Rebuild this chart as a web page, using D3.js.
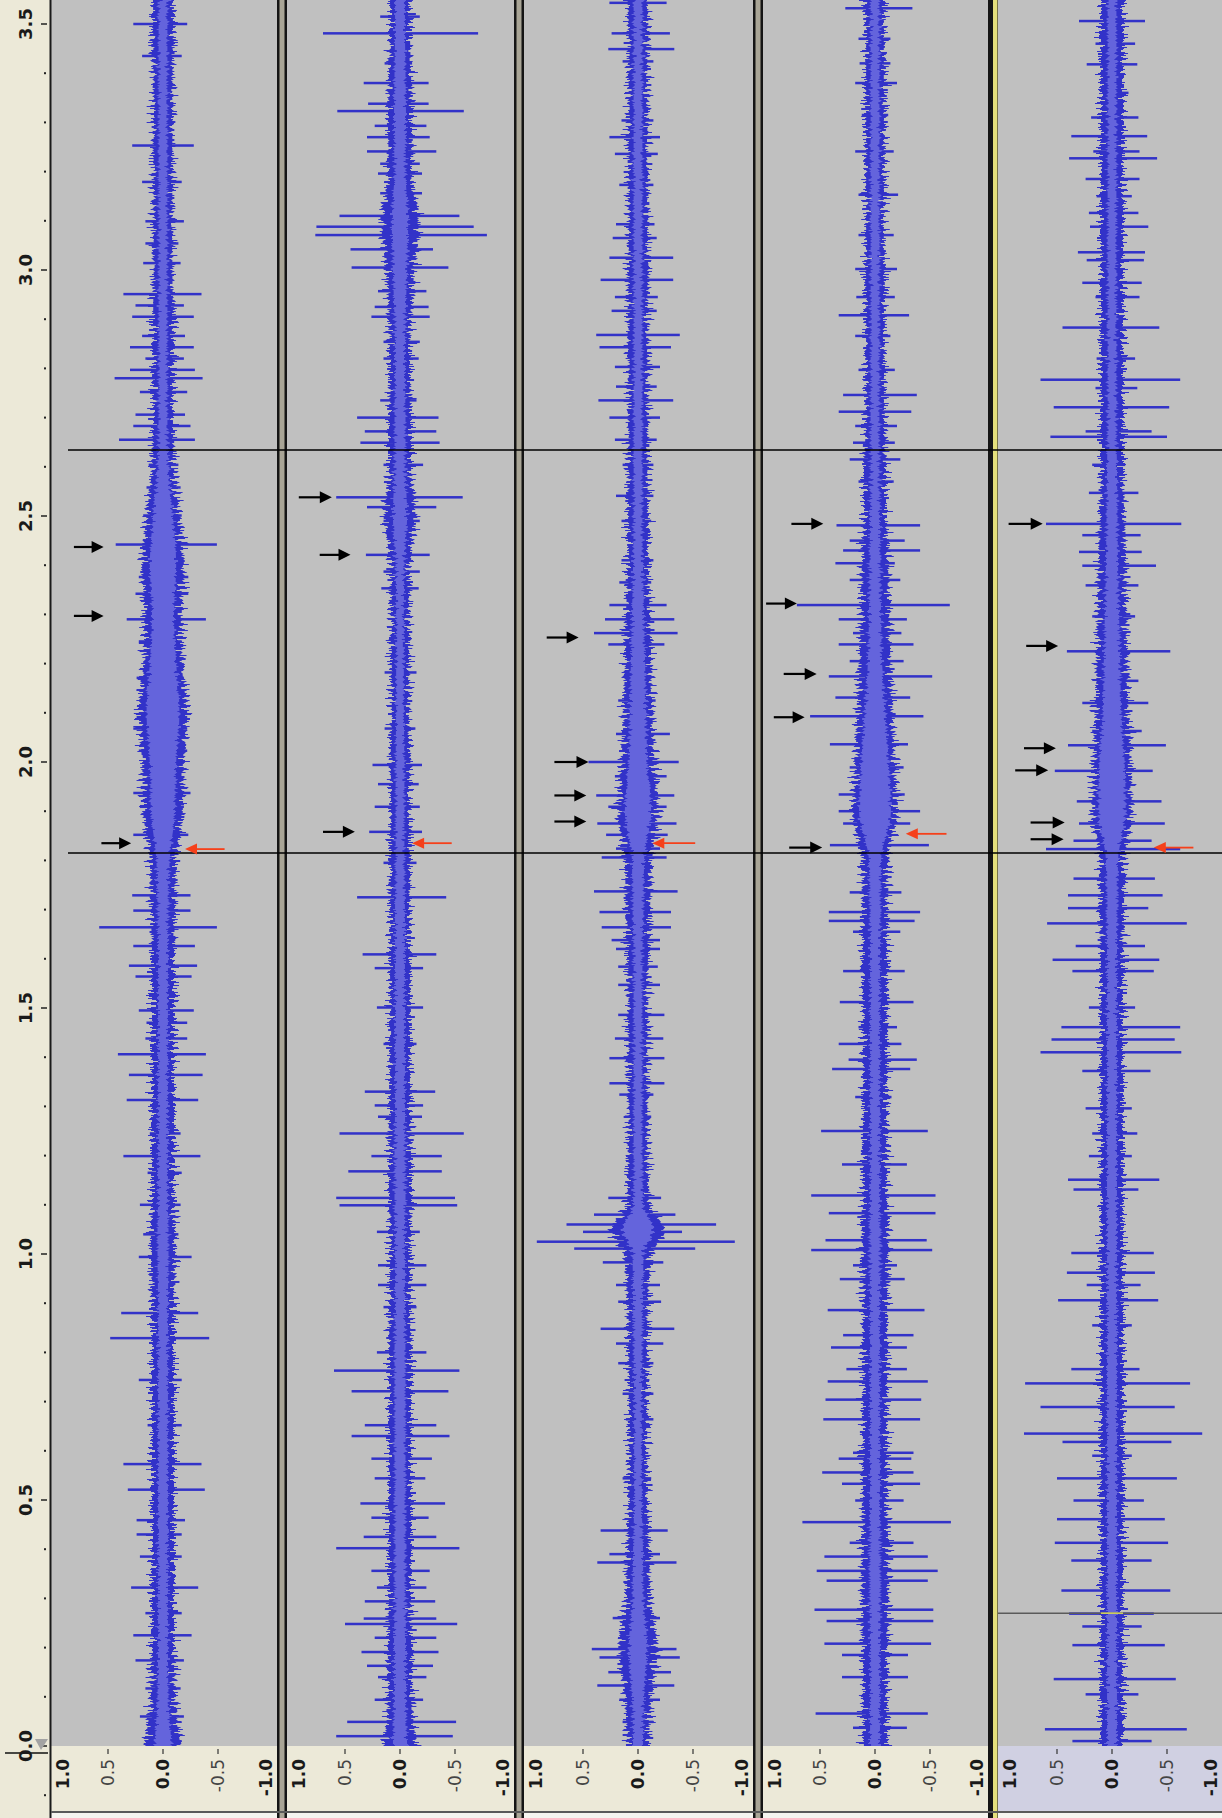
<!DOCTYPE html>
<html>
<head>
<meta charset="utf-8">
<script src="https://cdn.jsdelivr.net/npm/d3@7"></script>
<style>
  body { margin: 0; background: #fff; }
  svg { display: block; }
</style>
</head>
<body>
<svg id="chart" width="1222" height="1818"></svg>
<script>
// --- data (time in seconds, amplitude -1..1)
const TIME_TICKS = [0, 0.5, 1.0, 1.5, 2.0, 2.5, 3.0, 3.5];
const AMP_TICKS = [1, 0.5, 0, -0.5, -1];
const MARKER_TIMES = [1.815, 2.634];
const CURSOR_TIME = 0.27; // grey line in the last track

// envelope sample times
const ENV_TIMES = [0, 0.1, 0.2, 0.3, 0.4, 0.5, 0.6, 0.7, 0.8, 0.9, 1.0, 1.05, 1.1, 1.2, 1.3, 1.4, 1.5, 1.6, 1.7, 1.8,
    1.9, 2.0, 2.1, 2.2, 2.3, 2.4, 2.5, 2.6, 2.7, 2.8, 2.9, 3.0, 3.1, 3.2, 3.3, 3.4, 3.5, 3.6];

// rms (light) and peak (dark) half widths per track
const RMS_1 = [.08, .05, .045, .045, .045, .045, .045, .045, .045, .045, .05, .05, .045, .045, .045, .045, .045, .045, .05, .06,
    .11, .12, .15, .12, .10, .12, .09, .05, .04, .04, .04, .04, .04, .04, .04, .04, .04, .04];
const PEAK_1 = [.17, .11, .10, .10, .10, .10, .10, .10, .10, .10, .11, .11, .10, .10, .10, .10, .10, .10, .11, .12,
    .18, .19, .22, .18, .17, .19, .15, .10, .09, .09, .09, .085, .085, .085, .085, .085, .09, .09];
const RMS_2 = [.065, .055, .055, .05, .05, .05, .05, .05, .05, .045, .045, .045, .05, .05, .045, .045, .045, .045, .045, .04,
    .04, .04, .035, .035, .035, .04, .065, .05, .05, .045, .05, .065, .075, .05, .055, .05, .045, .045];
const PEAK_2 = [.15, .11, .11, .10, .10, .10, .10, .10, .10, .09, .09, .09, .10, .10, .09, .09, .09, .09, .09, .08,
    .08, .085, .075, .075, .075, .08, .14, .10, .10, .09, .10, .13, .17, .10, .11, .10, .09, .09];
const RMS_3 = [.045, .055, .085, .05, .045, .035, .035, .035, .04, .045, .05, .14, .045, .04, .04, .04, .04, .04, .05, .055,
    .12, .085, .075, .065, .055, .045, .04, .04, .04, .04, .04, .04, .04, .04, .04, .04, .04, .04];
const PEAK_3 = [.10, .12, .17, .11, .10, .08, .075, .075, .08, .09, .12, .24, .10, .085, .085, .085, .085, .09, .11, .12,
    .18, .15, .13, .12, .11, .09, .09, .085, .085, .085, .085, .085, .085, .085, .085, .085, .085, .085];
const RMS_4 = [.045, .045, .045, .05, .05, .045, .045, .045, .045, .045, .05, .05, .045, .045, .045, .045, .045, .045, .05, .055,
    .145, .125, .095, .065, .055, .05, .045, .04, .04, .04, .04, .04, .04, .04, .04, .04, .04, .04];
const PEAK_4 = [.11, .11, .11, .12, .12, .11, .11, .11, .11, .11, .12, .12, .11, .11, .11, .11, .11, .11, .11, .12,
    .20, .18, .16, .14, .13, .12, .10, .10, .08, .08, .08, .08, .08, .08, .08, .08, .08, .08];
const RMS_5 = [.045, .045, .045, .045, .045, .045, .045, .045, .045, .045, .045, .045, .045, .045, .045, .045, .045, .045, .05, .055,
    .125, .115, .085, .075, .065, .055, .05, .045, .04, .04, .04, .04, .04, .04, .04, .04, .04, .04];
const PEAK_5 = [.10, .10, .10, .10, .10, .10, .10, .10, .10, .10, .10, .10, .10, .10, .10, .10, .10, .10, .11, .11,
    .18, .17, .15, .14, .13, .12, .11, .10, .10, .10, .10, .10, .10, .10, .10, .10, .10, .10];

// isolated peaks: [time, positive peak, negative peak]
const SPIKES_1 = [
    [3.50, .27, .22], [3.435, .19, .17], [3.253, .28, .28], [3.179, .19, .17], [3.099, .16, .19], [3.054, .16, .14],
    [3.014, .18, .16], [2.951, .36, .35], [2.928, .25, .19], [2.905, .28, .28], [2.866, .19, .20], [2.843, .30, .28],
    [2.820, .16, .19], [2.797, .30, .29], [2.780, .44, .36], [2.752, .21, .22], [2.706, .25, .20], [2.683, .27, .25],
    [2.655, .40, .29], [2.604, .13, .14], [2.558, .15, .16], [2.501, .18, .17], [2.442, .43, .49], [2.376, .22, .23],
    [2.342, .25, .23], [2.290, .33, .39], [2.245, .22, .17], [2.171, .24, .19], [2.091, .24, .22], [2.068, .27, .22],
    [2.023, .22, .22], [1.937, .27, .25], [1.909, .21, .19], [1.852, .27, .23], [1.729, .28, .25], [1.698, .27, .25],
    [1.664, .58, .49], [1.626, .27, .29], [1.586, .31, .31], [1.564, .25, .26], [1.495, .22, .28], [1.470, .15, .22],
    [1.438, .16, .22], [1.406, .41, .39], [1.364, .31, .36], [1.313, .33, .32], [1.245, .12, .16], [1.199, .36, .34],
    [1.165, .14, .17], [1.100, .21, .16], [1.040, .18, .14], [0.994, .22, .26], [0.880, .38, .32], [0.829, .48, .42],
    [0.744, .22, .17], [0.652, .14, .17], [0.573, .36, .35], [0.521, .32, .38], [0.459, .24, .20], [0.430, .24, .17],
    [0.385, .21, .17], [0.322, .29, .32], [0.270, .16, .17], [0.225, .27, .26], [0.174, .25, .19], [0.117, .16, .16],
    [0.060, .21, .19]
];
const SPIKES_2 = [
    [3.515, .18, .18], [3.481, .70, .71], [3.420, .14, .11], [3.380, .33, .26], [3.338, .29, .26], [3.323, .57, .58],
    [3.293, .23, .24], [3.270, .30, .27], [3.241, .30, .33], [3.216, .18, .18], [3.196, .20, .20], [3.156, .18, .20],
    [3.110, .55, .54], [3.088, .76, .67], [3.071, .77, .79], [3.042, .45, .30], [3.005, .44, .44], [2.957, .20, .24],
    [2.925, .23, .26], [2.905, .26, .27], [2.854, .15, .18], [2.820, .15, .17], [2.735, .18, .15], [2.700, .39, .35],
    [2.672, .32, .33], [2.649, .36, .36], [2.604, .15, .21], [2.538, .58, .57], [2.518, .30, .33], [2.490, .15, .18],
    [2.421, .31, .27], [2.387, .15, .18], [2.353, .17, .17], [2.182, .14, .15], [2.068, .14, .14], [1.994, .25, .20],
    [1.955, .20, .17], [1.909, .23, .18], [1.858, .28, .20], [1.795, .15, .15], [1.725, .39, .42], [1.609, .34, .33],
    [1.581, .23, .21], [1.501, .21, .21], [1.427, .15, .15], [1.330, .32, .32], [1.302, .23, .21], [1.279, .20, .20],
    [1.245, .55, .58], [1.199, .26, .38], [1.168, .47, .38], [1.114, .58, .50], [1.099, .55, .52], [1.045, .21, .18],
    [0.977, .20, .24], [0.937, .20, .24], [0.892, .15, .15], [0.800, .21, .24], [0.763, .60, .54], [0.721, .44, .44],
    [0.652, .32, .33], [0.630, .44, .45], [0.584, .26, .29], [0.544, .23, .23], [0.493, .36, .41], [0.464, .26, .26],
    [0.425, .33, .33], [0.402, .58, .54], [0.356, .26, .27], [0.322, .21, .24], [0.294, .32, .32], [0.259, .33, .33],
    [0.248, .50, .52], [0.220, .23, .33], [0.191, .35, .35], [0.163, .30, .30], [0.140, .20, .24], [0.094, .23, .21],
    [0.049, .48, .51], [0.020, .58, .48]
];
const SPIKES_3 = [
    [3.543, .26, .26], [3.481, .24, .29], [3.449, .27, .33], [3.424, .14, .14], [3.304, .15, .14], [3.270, .26, .20],
    [3.236, .21, .18], [3.173, .17, .14], [3.093, .20, .15], [3.065, .23, .17], [3.025, .26, .32], [2.980, .34, .32],
    [2.945, .21, .18], [2.917, .24, .17], [2.868, .38, .38], [2.843, .35, .30], [2.803, .21, .20], [2.763, .20, .17],
    [2.735, .36, .32], [2.700, .26, .20], [2.655, .21, .17], [2.604, .14, .14], [2.541, .20, .14], [2.490, .15, .12],
    [2.410, .15, .14], [2.365, .17, .12], [2.319, .26, .26], [2.290, .30, .33], [2.262, .40, .36], [2.239, .27, .24],
    [2.125, .18, .16], [2.057, .20, .29], [2.000, .45, .37], [1.971, .21, .26], [1.932, .38, .33], [1.909, .27, .26],
    [1.875, .37, .35], [1.852, .29, .27], [1.824, .20, .20], [1.806, .33, .26], [1.737, .40, .36], [1.695, .35, .30],
    [1.664, .33, .30], [1.638, .24, .20], [1.620, .20, .20], [1.584, .18, .18], [1.547, .18, .20], [1.486, .18, .24],
    [1.438, .21, .23], [1.398, .26, .24], [1.347, .26, .24], [1.324, .17, .14], [1.279, .12, .12], [1.114, .27, .21],
    [1.080, .40, .34], [1.060, .65, .71], [1.045, .50, .40], [1.025, .92, .88], [1.011, .58, .52], [0.983, .32, .23],
    [0.937, .20, .20], [0.903, .18, .21], [0.848, .34, .33], [0.818, .20, .23], [0.778, .18, .14], [0.716, .14, .14],
    [0.664, .11, .14], [0.544, .14, .12], [0.438, .34, .27], [0.390, .26, .20], [0.373, .37, .35], [0.260, .23, .20],
    [0.197, .42, .35], [0.180, .35, .38], [0.150, .27, .30], [0.123, .37, .33], [0.094, .17, .20], [0.049, .14, .14]
];
const SPIKES_4 = [
    [3.532, .27, .34], [3.470, .15, .14], [3.420, .14, .14], [3.380, .18, .20], [3.315, .12, .12], [3.241, .18, .17],
    [3.153, .15, .21], [3.071, .15, .17], [3.002, .18, .20], [2.945, .17, .18], [2.908, .33, .31], [2.866, .18, .14],
    [2.797, .15, .18], [2.746, .29, .38], [2.712, .33, .33], [2.683, .18, .20], [2.649, .20, .18], [2.615, .23, .23],
    [2.570, .15, .17], [2.481, .35, .41], [2.450, .23, .27], [2.430, .29, .41], [2.404, .36, .18], [2.370, .23, .23],
    [2.319, .71, .68], [2.290, .33, .29], [2.262, .20, .24], [2.239, .33, .35], [2.205, .23, .26], [2.174, .42, .52],
    [2.131, .36, .32], [2.093, .59, .44], [2.036, .41, .30], [1.989, .23, .26], [1.934, .33, .27], [1.900, .33, .41],
    [1.875, .29, .32], [1.831, .41, .49], [1.735, .23, .24], [1.695, .42, .41], [1.677, .42, .36], [1.655, .20, .23],
    [1.575, .29, .27], [1.512, .32, .35], [1.461, .15, .20], [1.427, .33, .24], [1.395, .24, .38], [1.376, .39, .32],
    [1.319, .18, .15], [1.250, .49, .48], [1.182, .30, .29], [1.119, .58, .55], [1.083, .42, .55], [1.028, .45, .47],
    [1.008, .58, .52], [0.977, .20, .20], [0.949, .32, .27], [0.886, .43, .45], [0.835, .29, .35], [0.810, .40, .29],
    [0.766, .26, .29], [0.741, .43, .48], [0.704, .45, .42], [0.664, .47, .41], [0.596, .20, .35], [0.584, .33, .33],
    [0.556, .48, .35], [0.533, .30, .41], [0.499, .18, .26], [0.455, .66, .69], [0.413, .23, .35], [0.385, .46, .48],
    [0.356, .53, .57], [0.336, .44, .48], [0.277, .55, .53], [0.254, .44, .53], [0.208, .46, .51], [0.185, .30, .30],
    [0.140, .30, .30], [0.066, .54, .48], [0.037, .20, .29]
];
const SPIKES_5 = [
    [3.506, .30, .30], [3.460, .15, .21], [3.418, .23, .23], [3.360, .08, .15], [3.310, .19, .24], [3.272, .37, .32],
    [3.241, .17, .25], [3.227, .39, .41], [3.185, .24, .25], [3.150, .14, .18], [3.116, .21, .24], [3.088, .20, .33],
    [3.036, .31, .30], [3.020, .23, .29], [2.974, .27, .27], [2.945, .15, .25], [2.883, .45, .43], [2.820, .14, .21],
    [2.777, .65, .62], [2.760, .15, .23], [2.721, .53, .52], [2.672, .24, .36], [2.661, .56, .50], [2.604, .18, .12],
    [2.547, .21, .24], [2.484, .60, .63], [2.461, .27, .26], [2.427, .30, .27], [2.399, .27, .40], [2.359, .24, .24],
    [2.296, .18, .21], [2.225, .41, .53], [2.165, .14, .24], [2.120, .27, .33], [2.063, .18, .27], [2.034, .40, .49],
    [1.982, .52, .37], [1.920, .32, .45], [1.875, .30, .48], [1.840, .35, .36], [1.823, .60, .62], [1.763, .35, .39],
    [1.729, .40, .46], [1.703, .40, .33], [1.672, .59, .68], [1.626, .33, .30], [1.598, .54, .43], [1.575, .36, .38],
    [1.501, .21, .21], [1.461, .46, .62], [1.436, .55, .57], [1.410, .65, .63], [1.372, .27, .35], [1.296, .24, .18],
    [1.245, .18, .23], [1.199, .21, .18], [1.151, .40, .43], [1.131, .35, .24], [1.002, .37, .38], [0.962, .41, .39],
    [0.937, .23, .26], [0.906, .49, .42], [0.855, .18, .18], [0.766, .37, .25], [0.737, .79, .71], [0.689, .65, .57],
    [0.635, .80, .82], [0.618, .45, .54], [0.590, .18, .18], [0.544, .50, .59], [0.499, .35, .29], [0.461, .50, .48],
    [0.413, .52, .51], [0.377, .37, .36], [0.316, .46, .53], [0.269, .39, .38], [0.243, .27, .27], [0.205, .36, .48],
    [0.136, .53, .58], [0.105, .24, .24], [0.034, .61, .68], [0.010, .36, .36]
];

// annotation arrows: [track, time, tail amplitude, tip amplitude]
const BLACK_ARROWS = [
    [0, 2.437, .81, .54], [0, 2.297, .81, .54], [0, 1.835, .56, .29],
    [1, 2.538, .92, .62], [1, 2.421, .73, .45], [1, 1.858, .70, .41],
    [2, 2.253, .83, .54], [2, 2.000, .76, .45], [2, 1.932, .76, .47], [2, 1.879, .76, .47],
    [3, 2.484, .76, .47], [3, 2.322, .99, .71], [3, 2.179, .83, .53], [3, 2.091, .92, .64], [3, 1.826, .78, .48],
    [4, 2.484, .94, .63], [4, 2.236, .78, .49], [4, 2.028, .80, .51], [4, 1.983, .88, .58], [4, 1.877, .74, .43],
    [4, 1.843, .74, .44]
];
const RED_ARROWS = [
    [0, 1.823, -.56, -.20], [1, 1.835, -.47, -.11], [2, 1.835, -.52, -.13], [3, 1.854, -.65, -.28], [4, 1.826, -.74, -.38]
];

const TRACKS = [
    {rms: RMS_1, peak: PEAK_1, spikes: SPIKES_1},
    {rms: RMS_2, peak: PEAK_2, spikes: SPIKES_2},
    {rms: RMS_3, peak: PEAK_3, spikes: SPIKES_3},
    {rms: RMS_4, peak: PEAK_4, spikes: SPIKES_4},
    {rms: RMS_5, peak: PEAK_5, spikes: SPIKES_5}
];

// --- layout
const WIDTH = 1222;
const HEIGHT = 1818;
const PLOT_BOTTOM = 1746;
const RULER_BOTTOM = 1812;
const PX_PER_SEC = 492;
const HALF_AMP = 110;
const PANELS = [
    {left: 51, right: 277, center: 163},
    {left: 287, right: 514, center: 400},
    {left: 524, right: 753, center: 638},
    {left: 763, right: 988, center: 875},
    {left: 998, right: 1222, center: 1112}
];

const DARK = '#3232c8';
const LIGHT = '#6464dc';
const FONT = '"DejaVu Sans", Verdana, sans-serif';

const y = d3.scaleLinear()
    .domain([0, 3.6])
    .range([PLOT_BOTTOM, PLOT_BOTTOM - 3.6 * PX_PER_SEC]);

function drawChart() {
    const svg = d3.select('#chart');
    const defs = svg.append('defs');

    // backgrounds
    svg.append('rect').attr('width', WIDTH).attr('height', HEIGHT).attr('fill', '#f6f5f0');
    svg.append('rect').attr('x', 0).attr('y', 0).attr('width', 51).attr('height', HEIGHT).attr('fill', '#ece9d8');

    PANELS.forEach((p, i) => {
        svg.append('rect')
            .attr('x', p.left).attr('y', 0)
            .attr('width', p.right - p.left).attr('height', PLOT_BOTTOM)
            .attr('fill', '#c0c0c0');
        svg.append('rect')
            .attr('x', p.left).attr('y', PLOT_BOTTOM)
            .attr('width', p.right - p.left).attr('height', RULER_BOTTOM - PLOT_BOTTOM)
            .attr('fill', i === 4 ? '#d0d0e2' : '#ece9d8');
    });

    PANELS.forEach((p, i) => drawTrack(svg, defs, p, TRACKS[i], i));

    drawSeparators(svg);
    drawMarkers(svg);
    drawArrows(svg);
    drawTimeRuler(svg);
    drawAmpRulers(svg);
}

function addJitter(defs, id, panel, seed, scale) {
    const f = defs.append('filter')
        .attr('id', id)
        .attr('filterUnits', 'userSpaceOnUse')
        .attr('x', panel.left).attr('y', 0)
        .attr('width', panel.right - panel.left).attr('height', PLOT_BOTTOM)
        .attr('color-interpolation-filters', 'sRGB');
    f.append('feTurbulence')
        .attr('type', 'fractalNoise')
        .attr('baseFrequency', '0 0.38')
        .attr('numOctaves', 2)
        .attr('seed', seed)
        .attr('result', 'noise');
    f.append('feColorMatrix')
        .attr('in', 'noise')
        .attr('type', 'matrix')
        .attr('values', '1 0 0 0 0  0 0 0 0 0.5  0 0 0 0 0  0 0 0 0 1')
        .attr('result', 'map');
    f.append('feDisplacementMap')
        .attr('in', 'SourceGraphic')
        .attr('in2', 'map')
        .attr('scale', scale)
        .attr('xChannelSelector', 'R')
        .attr('yChannelSelector', 'G');
}

function drawTrack(svg, defs, panel, track, idx) {
    const x = d3.scaleLinear()
        .domain([1, -1])
        .range([panel.center - HALF_AMP, panel.center + HALF_AMP]);

    const env = ENV_TIMES.map((t, i) => ({t, rms: track.rms[i], peak: track.peak[i]}));

    defs.append('clipPath').attr('id', `clip-${idx}`)
        .append('rect')
        .attr('x', panel.left).attr('y', 0)
        .attr('width', panel.right - panel.left).attr('height', PLOT_BOTTOM);

    addJitter(defs, `jl-${idx}`, panel, 3 + idx * 7, 26);
    addJitter(defs, `jr-${idx}`, panel, 5 + idx * 11, 26);
    addJitter(defs, `jm-${idx}`, panel, 9 + idx * 13, 12);

    const g = svg.append('g').attr('clip-path', `url(#clip-${idx})`);

    const darkLeft = d3.area()
        .curve(d3.curveMonotoneY)
        .y(d => y(d.t))
        .x0(d => x(d.peak))
        .x1(() => x(0) + 8);

    const darkRight = d3.area()
        .curve(d3.curveMonotoneY)
        .y(d => y(d.t))
        .x0(() => x(0) - 8)
        .x1(d => x(-d.peak));

    const light = d3.area()
        .curve(d3.curveMonotoneY)
        .y(d => y(d.t))
        .x0(d => x(d.rms))
        .x1(d => x(-d.rms));

    g.append('g').attr('filter', `url(#jl-${idx})`)
        .append('path').datum(env).attr('fill', DARK).attr('d', darkLeft);
    g.append('g').attr('filter', `url(#jr-${idx})`)
        .append('path').datum(env).attr('fill', DARK).attr('d', darkRight);

    g.append('g').attr('class', 'spikes')
        .selectAll('rect')
        .data(track.spikes)
        .enter()
        .append('rect')
        .attr('x', d => x(d[1]))
        .attr('y', d => y(d[0]) - 1.25)
        .attr('width', d => x(-d[2]) - x(d[1]))
        .attr('height', 2.5)
        .attr('fill', DARK);

    g.append('g').attr('filter', `url(#jm-${idx})`)
        .append('path').datum(env).attr('fill', LIGHT).attr('d', light);

    if (idx === 4) {
        g.append('line')
            .attr('x1', panel.left).attr('x2', panel.right)
            .attr('y1', y(CURSOR_TIME)).attr('y2', y(CURSOR_TIME))
            .attr('stroke', '#5a5a5a').attr('stroke-width', 1.5);
        g.append('line')
            .attr('x1', x(0.1)).attr('x2', x(-0.1))
            .attr('y1', y(CURSOR_TIME)).attr('y2', y(CURSOR_TIME))
            .attr('stroke', '#d8d860').attr('stroke-width', 1.5);
    }
}

function drawSeparators(svg) {
    const g = svg.append('g').attr('class', 'separators');
    [277, 514, 753].forEach(x0 => {
        g.append('rect').attr('x', x0).attr('y', 0).attr('width', 10).attr('height', HEIGHT).attr('fill', '#151515');
        g.append('rect').attr('x', x0 + 2.5).attr('y', 0).attr('width', 5).attr('height', HEIGHT).attr('fill', '#a9a596');
    });
    g.append('rect').attr('x', 988).attr('y', 0).attr('width', 5).attr('height', HEIGHT).attr('fill', '#151515');
    g.append('rect').attr('x', 993).attr('y', 0).attr('width', 5).attr('height', HEIGHT).attr('fill', '#e4df7c');
    g.append('rect').attr('x', 997).attr('y', 0).attr('width', 1).attr('height', HEIGHT).attr('fill', '#77744a');

    // left ruler edge
    g.append('rect').attr('x', 49.5).attr('y', 0).attr('width', 2).attr('height', HEIGHT).attr('fill', '#1a1a1a');
}

function drawMarkers(svg) {
    svg.append('g').attr('class', 'markers')
        .selectAll('line')
        .data(MARKER_TIMES)
        .enter()
        .append('line')
        .attr('x1', 68).attr('x2', WIDTH)
        .attr('y1', d => y(d)).attr('y2', d => y(d))
        .attr('stroke', '#000').attr('stroke-width', 1.5);
}

function arrowPath(x1, x2, yy, head, half) {
    const dir = x2 > x1 ? 1 : -1;
    const xb = x2 - dir * head;
    return {
        line: [x1, xb],
        head: `M${x2},${yy} L${xb},${yy - half} L${xb},${yy + half} Z`
    };
}

function drawArrows(svg) {
    const g = svg.append('g').attr('class', 'arrows');
    const ampX = (panel, a) => PANELS[panel].center - a * HALF_AMP;

    BLACK_ARROWS.forEach(d => {
        const yy = y(d[1]);
        const a = arrowPath(ampX(d[0], d[2]), ampX(d[0], d[3]), yy, 12, 6);
        g.append('line')
            .attr('x1', a.line[0]).attr('x2', a.line[1] + 1)
            .attr('y1', yy).attr('y2', yy)
            .attr('stroke', '#000').attr('stroke-width', 2.2);
        g.append('path').attr('d', a.head).attr('fill', '#000');
    });

    RED_ARROWS.forEach(d => {
        const yy = y(d[1]);
        const a = arrowPath(ampX(d[0], d[2]), ampX(d[0], d[3]), yy, 12, 5.5);
        g.append('line')
            .attr('x1', a.line[0]).attr('x2', a.line[1] - 1)
            .attr('y1', yy).attr('y2', yy)
            .attr('stroke', '#f5401a').attr('stroke-width', 1.8);
        g.append('path').attr('d', a.head).attr('fill', '#f5401a');
    });
}

function drawTimeRuler(svg) {
    const g = svg.append('g').attr('class', 'timeRuler');

    const minor = d3.range(-1, 36).map(i => i / 10);
    g.selectAll('.minor')
        .data(minor.filter(t => Math.abs(t * 2 - Math.round(t * 2)) > 1e-6))
        .enter()
        .append('rect')
        .attr('class', 'minor')
        .attr('x', 44).attr('y', d => y(d) - 1)
        .attr('width', 2).attr('height', 2)
        .attr('fill', '#222');

    g.selectAll('.major')
        .data(TIME_TICKS)
        .enter()
        .append('line')
        .attr('class', 'major')
        .attr('x1', 41).attr('x2', 47)
        .attr('y1', d => y(d)).attr('y2', d => y(d))
        .attr('stroke', '#222').attr('stroke-width', 1.5);

    // corner details
    g.append('path').attr('d', 'M35,1739 L48,1739 L41,1750 Z').attr('fill', '#a3a3a3');
    g.append('line')
        .attr('x1', 5).attr('x2', 48).attr('y1', 1753).attr('y2', 1753)
        .attr('stroke', '#111').attr('stroke-width', 1.6);

    g.selectAll('text')
        .data(TIME_TICKS)
        .enter()
        .append('text')
        .attr('transform', d => `translate(32, ${y(d)}) rotate(-90)`)
        .attr('text-anchor', 'middle')
        .attr('font-family', FONT)
        .attr('font-weight', 'bold')
        .attr('font-size', 18)
        .attr('fill', '#1a1a1a')
        .text(d => d.toFixed(1));
}

function drawAmpRulers(svg) {
    const g = svg.append('g').attr('class', 'ampRulers');

    PANELS.forEach(p => {
        const x = d3.scaleLinear()
            .domain([1, -1])
            .range([p.center - HALF_AMP, p.center + HALF_AMP]);

        const labelX = v => v === 1 ? p.left + 12 : v === -1 ? p.right - 11 : x(v);

        g.selectAll(null)
            .data(AMP_TICKS.filter(v => Math.abs(v) < 1))
            .enter()
            .append('line')
            .attr('x1', d => x(d)).attr('x2', d => x(d))
            .attr('y1', PLOT_BOTTOM + 3).attr('y2', PLOT_BOTTOM + 8)
            .attr('stroke', '#333').attr('stroke-width', 1.2);

        g.selectAll(null)
            .data(AMP_TICKS)
            .enter()
            .append('text')
            .attr('transform', d => `translate(${labelX(d) + 6}, ${PLOT_BOTTOM + 13}) rotate(-90)`)
            .attr('text-anchor', 'end')
            .attr('font-family', FONT)
            .attr('font-weight', d => Math.abs(d) === 0.5 ? 'normal' : 'bold')
            .attr('font-size', 17)
            .attr('fill', d => Math.abs(d) === 0.5 ? '#444' : '#1a1a1a')
            .text(d => d.toFixed(1));
    });

    g.append('line')
        .attr('x1', 51).attr('x2', WIDTH)
        .attr('y1', RULER_BOTTOM).attr('y2', RULER_BOTTOM)
        .attr('stroke', '#5a5a5a').attr('stroke-width', 2);
}

drawChart();
</script>
</body>
</html>
